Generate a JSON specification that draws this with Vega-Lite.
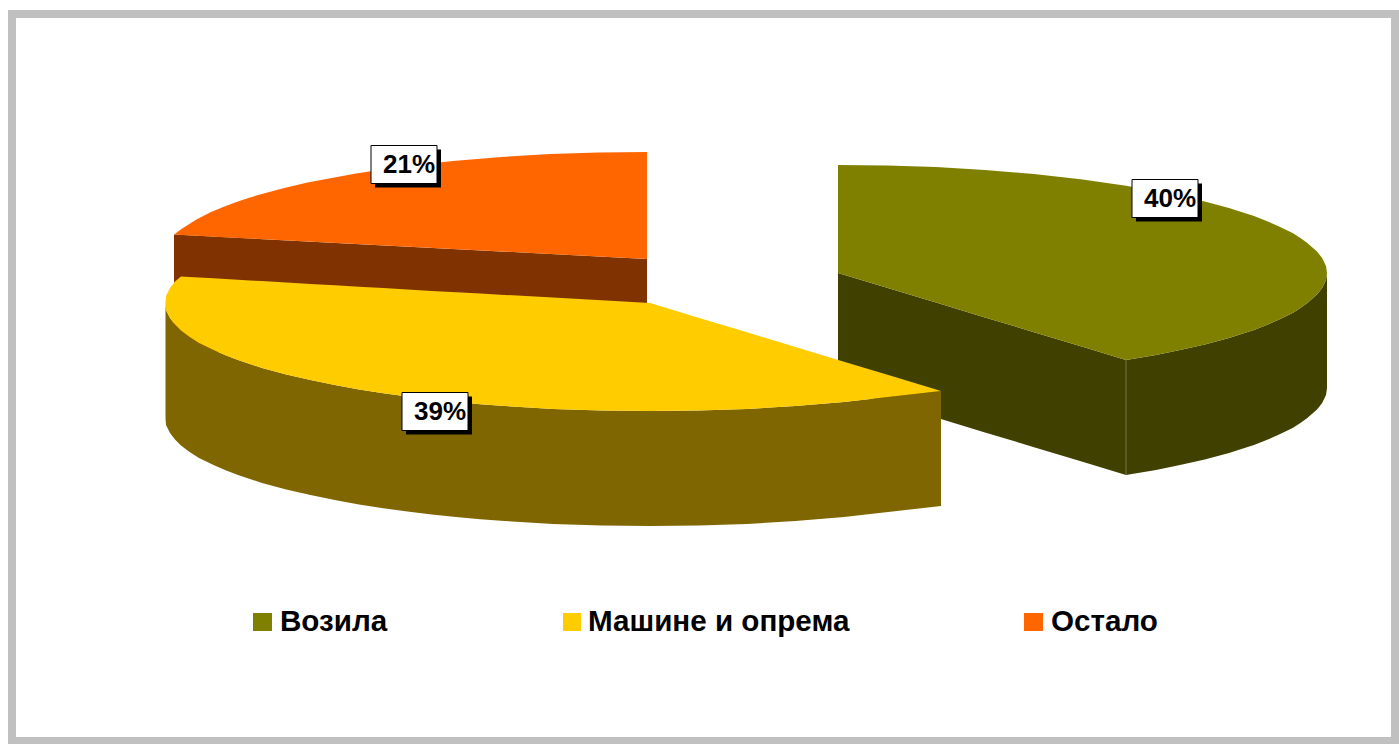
{
"$schema":"https://vega.github.io/schema/vega-lite/v6.json",
"width":1399,"height":744,"padding":0,
"autosize":{"type":"fit","contains":"padding"},
"background":"white",
"config":{"view":{"stroke":null}},
"resolve":{"scale":{"color":"independent"}},
"datasets":{
"frame":[{"part":"outer","x":8,"x2":1399,"y":10,"y2":744},{"part":"inner","x":16,"x2":1391,"y":18,"y2":737}],
"faces":[
{"face":"Возила бок","x":838,"y":273,"y2":388},{"face":"Возила бок","x":887,"y":287.8,"y2":402.8},{"face":"Возила бок","x":936,"y":302.6,"y2":417.6},{"face":"Возила бок","x":985,"y":317.4,"y2":432.4},{"face":"Возила бок","x":1034,"y":332.2,"y2":447.2},{"face":"Возила бок","x":1082.5,"y":346.8,"y2":461.8},{"face":"Возила бок","x":1126,"y":360,"y2":475},{"face":"Возила бок","x":1156,"y":355.1,"y2":470.1},{"face":"Возила бок","x":1180,"y":350,"y2":465},{"face":"Возила бок","x":1204.75,"y":344.4,"y2":459.4},{"face":"Возила бок","x":1229,"y":338,"y2":453},{"face":"Возила бок","x":1241.4,"y":334,"y2":449},{"face":"Возила бок","x":1254,"y":330,"y2":445},{"face":"Возила бок","x":1266,"y":325.3,"y2":440.3},{"face":"Возила бок","x":1278,"y":320,"y2":435},{"face":"Возила бок","x":1285.4,"y":316.5,"y2":431.5},{"face":"Возила бок","x":1293,"y":312.7,"y2":427.7},{"face":"Возила бок","x":1300,"y":308.3,"y2":423.3},{"face":"Возила бок","x":1307,"y":303.2,"y2":418.2},{"face":"Возила бок","x":1317,"y":294.5,"y2":409.5},{"face":"Возила бок","x":1322,"y":288.2,"y2":403.2},{"face":"Возила бок","x":1326,"y":280,"y2":395},{"face":"Возила бок","x":1327,"y":273,"y2":388},
{"face":"Возила","x":838,"y":165,"y2":273},{"face":"Возила","x":887,"y":165.5,"y2":287.8},{"face":"Возила","x":936,"y":167,"y2":302.6},{"face":"Возила","x":985,"y":170,"y2":317.4},{"face":"Возила","x":1034,"y":174,"y2":332.2},{"face":"Возила","x":1082.5,"y":179.5,"y2":346.8},{"face":"Возила","x":1126,"y":185.7,"y2":360},{"face":"Возила","x":1156,"y":190.9,"y2":355.1},{"face":"Возила","x":1180,"y":196,"y2":350},{"face":"Возила","x":1204.75,"y":201.6,"y2":344.4},{"face":"Возила","x":1229,"y":208,"y2":338},{"face":"Возила","x":1241.4,"y":212,"y2":334},{"face":"Возила","x":1254,"y":216,"y2":330},{"face":"Возила","x":1266,"y":220.7,"y2":325.3},{"face":"Возила","x":1278,"y":226,"y2":320},{"face":"Возила","x":1285.4,"y":229.5,"y2":316.5},{"face":"Возила","x":1293,"y":233.3,"y2":312.7},{"face":"Возила","x":1300,"y":237.7,"y2":308.3},{"face":"Возила","x":1307,"y":242.8,"y2":303.2},{"face":"Возила","x":1317,"y":251.5,"y2":294.5},{"face":"Возила","x":1322,"y":257.8,"y2":288.2},{"face":"Возила","x":1326,"y":266,"y2":280},{"face":"Возила","x":1327,"y":273,"y2":273},
{"face":"Остало бок","x":174,"y":234.5,"y2":349.5},{"face":"Остало бок","x":647,"y":259,"y2":374},
{"face":"Остало","x":174,"y":234.5,"y2":234.5},{"face":"Остало","x":181.4,"y":229,"y2":235},{"face":"Остало","x":196,"y":219.7,"y2":235.7},{"face":"Остало","x":210.5,"y":212.3,"y2":236.5},{"face":"Остало","x":222.6,"y":207.2,"y2":237.2},{"face":"Остало","x":235,"y":202.6,"y2":237.8},{"face":"Остало","x":246.9,"y":198.5,"y2":238.4},{"face":"Остало","x":259,"y":194.8,"y2":239},{"face":"Остало","x":283.25,"y":188.3,"y2":240.3},{"face":"Остало","x":307.5,"y":182.6,"y2":241.5},{"face":"Остало","x":356,"y":173.4,"y2":244},{"face":"Остало","x":404.5,"y":166.3,"y2":246.5},{"face":"Остало","x":453,"y":160.9,"y2":249},{"face":"Остало","x":501.5,"y":157,"y2":251.5},{"face":"Остало","x":550,"y":154.1,"y2":254},{"face":"Остало","x":598.5,"y":152.5,"y2":256.5},{"face":"Остало","x":647,"y":152,"y2":259},
{"face":"Машине бок","x":165.5,"y":303,"y2":418},{"face":"Машине бок","x":166,"y":310,"y2":425},{"face":"Машине бок","x":170,"y":318,"y2":433},{"face":"Машине бок","x":175,"y":324.5,"y2":439.5},{"face":"Машине бок","x":181,"y":330.5,"y2":445.5},{"face":"Машине бок","x":189.25,"y":336.7,"y2":451.7},{"face":"Машине бок","x":199,"y":343,"y2":458},{"face":"Машине бок","x":213.5,"y":350,"y2":465},{"face":"Машине бок","x":225.6,"y":355.3,"y2":470.3},{"face":"Машине бок","x":238,"y":360,"y2":475},{"face":"Машине бок","x":249.9,"y":364,"y2":479},{"face":"Машине бок","x":262,"y":368,"y2":483},{"face":"Машине бок","x":286.25,"y":374.4,"y2":489.4},{"face":"Машине бок","x":310.5,"y":380,"y2":495},{"face":"Машине бок","x":334.75,"y":385.1,"y2":500.1},{"face":"Машине бок","x":359,"y":389.4,"y2":504.4},{"face":"Машине бок","x":383.25,"y":393.2,"y2":508.2},{"face":"Машине бок","x":407.5,"y":396.5,"y2":511.5},{"face":"Машине бок","x":431.75,"y":399.4,"y2":514.4},{"face":"Машине бок","x":456,"y":402,"y2":517},{"face":"Машине бок","x":480.25,"y":404.2,"y2":519.2},{"face":"Машине бок","x":504.5,"y":406,"y2":521},{"face":"Машине бок","x":553,"y":409,"y2":524},{"face":"Машине бок","x":601.5,"y":410.5,"y2":525.5},{"face":"Машине бок","x":650,"y":411,"y2":526},{"face":"Машине бок","x":698.5,"y":410.5,"y2":525.5},{"face":"Машине бок","x":747,"y":409,"y2":524},{"face":"Машине бок","x":795.5,"y":406,"y2":521},{"face":"Машине бок","x":844,"y":402,"y2":517},{"face":"Машине бок","x":892.5,"y":396.5,"y2":511.5},{"face":"Машине бок","x":941,"y":391,"y2":506},
{"face":"Машине","x":165.5,"y":303,"y2":303},{"face":"Машине","x":166,"y":296,"y2":310},{"face":"Машине","x":170,"y":288,"y2":318},{"face":"Машине","x":175,"y":281.5,"y2":324.5},{"face":"Машине","x":181,"y":276.5,"y2":330.5},{"face":"Машине","x":189.25,"y":277,"y2":336.7},{"face":"Машине","x":199,"y":277.5,"y2":343},{"face":"Машине","x":213.5,"y":278.3,"y2":350},{"face":"Машине","x":225.6,"y":279.1,"y2":355.3},{"face":"Машине","x":238,"y":279.7,"y2":360},{"face":"Машине","x":249.9,"y":280.5,"y2":364},{"face":"Машине","x":262,"y":281.1,"y2":368},{"face":"Машине","x":286.25,"y":282.5,"y2":374.4},{"face":"Машине","x":310.5,"y":283.9,"y2":380},{"face":"Машине","x":334.75,"y":285.3,"y2":385.1},{"face":"Машине","x":359,"y":286.7,"y2":389.4},{"face":"Машине","x":383.25,"y":288.1,"y2":393.2},{"face":"Машине","x":407.5,"y":289.5,"y2":396.5},{"face":"Машине","x":431.75,"y":290.9,"y2":399.4},{"face":"Машине","x":456,"y":292.2,"y2":402},{"face":"Машине","x":480.25,"y":293.6,"y2":404.2},{"face":"Машине","x":504.5,"y":294.9,"y2":406},{"face":"Машине","x":553,"y":297.6,"y2":409},{"face":"Машине","x":601.5,"y":300.3,"y2":410.5},{"face":"Машине","x":650,"y":303,"y2":411},{"face":"Машине","x":698.5,"y":317.7,"y2":410.5},{"face":"Машине","x":747,"y":332.3,"y2":409},{"face":"Машине","x":795.5,"y":347,"y2":406},{"face":"Машине","x":844,"y":361.7,"y2":402},{"face":"Машине","x":892.5,"y":376.3,"y2":396.5},{"face":"Машине","x":941,"y":391,"y2":391}
],
"labels":[
{"label":"40%","share":40,"x":1132,"x2":1198,"y":179.5,"y2":217.5,"sx":1136,"sx2":1202,"sy":183.5,"sy2":221.5,"tx":1170,"ty":207},
{"label":"39%","share":39,"x":402,"x2":468,"y":392.5,"y2":430.5,"sx":406,"sx2":472,"sy":396.5,"sy2":434.5,"tx":440,"ty":420},
{"label":"21%","share":21,"x":371,"x2":437,"y":145.5,"y2":183.5,"sx":375,"sx2":441,"sy":149.5,"sy2":187.5,"tx":409,"ty":173}
],
"legend":[
{"name":"Возила","x":253,"x2":272,"y":613,"y2":631,"tx":280},
{"name":"Машине и опрема","x":563,"x2":581,"y":613,"y2":631,"tx":588},
{"name":"Остало","x":1024,"x2":1043,"y":613,"y2":631,"tx":1051}
]
},
"encoding":{
"x":{"field":"x","type":"quantitative","scale":{"domain":[0,1399],"nice":false,"zero":false},"axis":null},
"y":{"field":"y","type":"quantitative","scale":{"domain":[744,0],"nice":false,"zero":false},"axis":null}
},
"layer":[
{"data":{"name":"frame"},"mark":{"type":"rect"},
 "encoding":{"x2":{"field":"x2"},"y2":{"field":"y2"},
 "color":{"field":"part","type":"nominal","scale":{"domain":["outer","inner"],"range":["#c0c0c0","#ffffff"]},"legend":null}}},
{"data":{"name":"faces"},"mark":{"type":"area","interpolate":"linear","opacity":1},
 "encoding":{"y2":{"field":"y2"},
 "color":{"field":"face","type":"nominal","sort":null,"scale":{"domain":["Возила бок","Возила","Остало бок","Остало","Машине бок","Машине"],"range":["#404000","#808000","#803300","#ff6600","#806600","#ffcc00"]},"legend":null}}},
{"data":{"values":[{"x":1126,"y":360,"y2":475}]},"mark":{"type":"rule","color":"#74744a","strokeWidth":1},
 "encoding":{"y2":{"field":"y2"}}},
{"data":{"name":"labels"},"mark":{"type":"rect","fill":"#000000"},
 "encoding":{"x":{"field":"sx","type":"quantitative"},"x2":{"field":"sx2"},"y":{"field":"sy","type":"quantitative"},"y2":{"field":"sy2"}}},
{"data":{"name":"labels"},"mark":{"type":"rect","fill":"#ffffff","stroke":"#000000","strokeWidth":1},
 "encoding":{"x2":{"field":"x2"},"y2":{"field":"y2"}}},
{"data":{"name":"labels"},"mark":{"type":"text","font":"Liberation Sans","fontWeight":"bold","fontSize":26,"align":"center","baseline":"alphabetic","color":"#000000"},
 "encoding":{"x":{"field":"tx","type":"quantitative"},"y":{"field":"ty","type":"quantitative"},"text":{"field":"label"}}},
{"data":{"name":"legend"},"mark":{"type":"rect"},
 "encoding":{"x2":{"field":"x2"},"y2":{"field":"y2"},
 "color":{"field":"name","type":"nominal","scale":{"domain":["Возила","Машине и опрема","Остало"],"range":["#808000","#ffcc00","#ff6600"]},"legend":null}}},
{"data":{"name":"legend"},"mark":{"type":"text","font":"Liberation Sans","fontWeight":"bold","fontSize":29.6,"align":"left","baseline":"alphabetic","color":"#000000"},
 "encoding":{"x":{"field":"tx","type":"quantitative"},"y":{"datum":631},"text":{"field":"name"}}}
]
}
